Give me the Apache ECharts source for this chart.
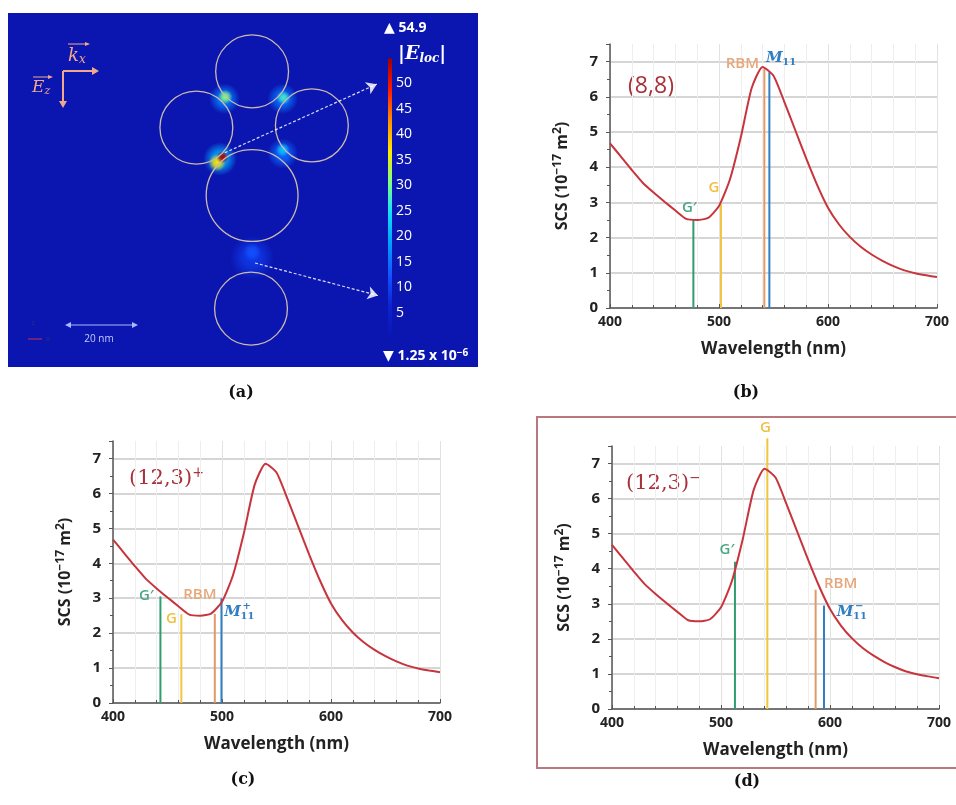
<!DOCTYPE html>
<html>
<head>
<meta charset="utf-8">
<script src="https://cdn.jsdelivr.net/npm/echarts@6/dist/echarts.min.js"></script>
<style>
  html, body { margin: 0; padding: 0; background: #fff; }
  #main { width: 956px; height: 805px; }
</style>
</head>
<body>
<div id="main"></div>
<script>
// ---- data ----
// scattering cross-section spectrum (same curve in b, c, d)
const wavelength = [400, 410, 420, 430, 440, 450, 460, 470, 480, 490, 500, 510, 520, 530, 540, 550,
  560, 570, 580, 590, 600, 610, 620, 630, 640, 650, 660, 670, 680, 690, 700]
const scs = [4.68, 4.3, 3.92, 3.56, 3.28, 3.02, 2.77, 2.53, 2.5, 2.56, 2.9, 3.65, 4.85, 6.25, 6.85, 6.6,
  5.85, 5.05, 4.25, 3.5, 2.85, 2.38, 2.02, 1.74, 1.52, 1.34, 1.19, 1.07, 0.99, 0.93, 0.88]

const xTicks = [400, 500, 600, 700]
const yTicks = [0, 1, 2, 3, 4, 5, 6, 7]

// Raman modes: [wavelength, height]
const modeNames = ['G′', 'G', 'RBM', 'M']
const modes88 = [[476.5, 2.5], [501.8, 2.95], [541.6, 6.8], [546.2, 6.7]]
const modes123p = [[443.5, 3.05], [462.7, 2.54], [493.4, 2.55], [499.5, 3.0]]
const modes123m = [[512.8, 4.2], [542.5, 7.72], [586.8, 3.4], [594.5, 2.95]]

// field map (nm, origin at centre of the big tube)
const tubes = [[0, 34, 20], [-15.3, 18.6, 20], [16.4, 19.2, 20], [0, 0, 25.2], [-0.3, -31, 20]]
// hot spots: [x, y, |E|, radius]
const hotSpots = [
  [-7.6, 26.5, 16, 4.2], [8.4, 26.5, 15, 4.2], [-8.8, 10, 20, 4.6], [8.4, 11.5, 14, 4.2], [0, -17, 9, 6],
  [-7.4, 27, 31, 2], [8.6, 26.8, 27, 1.9], [-9.6, 9, 37, 2.4], [-8.1, 10.5, 54, 1.7],
  [8.4, 12.5, 22, 1.9], [0, -15.5, 12, 2.5]
]
const fieldArrows = [[[-7.5, 11.7], [34.2, 30.5]], [[0.8, -18.5], [34.5, -27.4]]]
const colorbarRange = [0, 54.9]
const colorbarTicks = [5, 10, 15, 20, 25, 30, 35, 40, 45, 50]

// ---- styles ----
const jetColors = ['#0b16b0', '#0b22d2', '#1352ff', '#009cff', '#12dcff', '#7dff86', '#ffea00', '#ff9000', '#ff1a00', '#a00000']
const modeColors = ['#2f9e6e', '#f2c53d', '#e09a68', '#2f7fc2']
const labelColors = ['#4aa784', '#f0c040', '#e6a77a', '#2f7fc2']
const curveColor = '#c8343c'
const darkRed = '#a8323c'
const fontSans = '"Open Sans", "DejaVu Sans", sans-serif'
const fontSerif = '"DejaVu Serif", serif'

const labelOffsets = {
  b: [[-4, -12], [-7, -16], [-22, -5], [9, -14]],
  c: [[-14, -1], [-10, 4], [-15, -19], [15, 14]],
  d: [[-8, -12], [-2, -11], [25, -6], [25, 7]]
}

const chart = echarts.init(document.getElementById('main'))

function specX(g) {
  return {
    gridIndex: g, type: 'value', min: 400, max: 700, interval: 100,
    axisLine: { show: true, onZero: false, lineStyle: { color: '#555', width: 1.5 } },
    axisTick: { show: true, inside: true, length: 4, lineStyle: { color: '#555' } },
    minorTick: { show: true, splitNumber: 5, length: 3, lineStyle: { color: '#555' } },
    axisLabel: { color: '#222', fontWeight: 'bold', fontSize: 14, fontFamily: fontSans, margin: 7,
      formatter: v => xTicks.includes(v) ? v : '' },
    splitLine: { show: true, lineStyle: { color: '#e2e2e2' } },
    minorSplitLine: { show: true, lineStyle: { color: '#eeeeee' } },
    name: 'Wavelength (nm)', nameLocation: 'middle', nameGap: 33,
    nameTextStyle: { color: '#222', fontWeight: 'bold', fontSize: 17, fontFamily: fontSans }
  }
}

function specY(g) {
  return {
    gridIndex: g, type: 'value', min: 0, max: 7.5, interval: 1,
    axisLine: { show: true, lineStyle: { color: '#555', width: 1.5 } },
    axisTick: { show: true, length: 4, lineStyle: { color: '#555' } },
    minorTick: { show: true, splitNumber: 2, length: 3, lineStyle: { color: '#555' } },
    axisLabel: { color: '#222', fontWeight: 'bold', fontSize: 15, fontFamily: fontSans, margin: 12,
      formatter: v => yTicks.includes(v) ? v : '' },
    splitLine: { show: true, showMaxLine: false, lineStyle: { color: '#c8c8c8', width: 1.5 } },
    name: 'SCS (10{sup|−17} m{sup|2})', nameLocation: 'middle', nameGap: 37, nameRotate: 90,
    nameTextStyle: { color: '#222', fontWeight: 'bold', fontSize: 16, fontFamily: fontSans,
      rich: { sup: { fontSize: 12, fontWeight: 'bold', fontFamily: fontSans, color: '#222', verticalAlign: 'top', padding: [0, 0, 9, 0] } } }
  }
}

function curveSeries(g) {
  return {
    type: 'line', xAxisIndex: g, yAxisIndex: g, z: 4,
    data: wavelength.map((w, i) => [w, scs[i]]),
    showSymbol: false, symbol: 'none', smooth: 0.2,
    lineStyle: { color: curveColor, width: 2 }
  }
}

function modeSeries(g, data, offsets, sup) {
  return {
    type: 'custom', xAxisIndex: g, yAxisIndex: g, z: 3, clip: false,
    data: data,
    renderItem(params, api) {
      const i = params.dataIndex
      const x = api.value(0), top = api.value(1)
      const p0 = api.coord([x, 0]), p1 = api.coord([x, top])
      const cx = p1[0] + offsets[i][0], cy = p1[1] + offsets[i][1]
      const children = [{
        type: 'line', shape: { x1: p0[0], y1: p0[1], x2: p1[0], y2: p1[1] },
        style: { stroke: modeColors[i], lineWidth: 2 }
      }]
      if (i < 3) {
        children.push({ type: 'text', style: { text: modeNames[i], x: cx, y: cy, align: 'center', verticalAlign: 'middle',
          fill: labelColors[i], font: '600 15px ' + fontSans } })
      } else {
        children.push({ type: 'text', style: { text: 'M', x: cx - 4, y: cy, align: 'center', verticalAlign: 'middle',
          fill: labelColors[i], font: 'italic bold 15px ' + fontSerif } })
        children.push({ type: 'text', style: { text: '11', x: cx + 4, y: cy + 4, align: 'left', verticalAlign: 'middle',
          fill: labelColors[i], font: 'bold 10px ' + fontSerif } })
        if (sup) {
          children.push({ type: 'text', style: { text: sup, x: cx + 6, y: cy - 6, align: 'left', verticalAlign: 'middle',
            fill: labelColors[i], font: 'bold 10px ' + fontSerif } })
        }
      }
      return { type: 'group', children }
    }
  }
}

function arrowHead(x, y, dir, color) {
  const s = 4
  let pts
  if (dir === 'r') pts = [[x, y], [x - 7, y - s], [x - 7, y + s]]
  else pts = [[x, y], [x - s, y - 7], [x + s, y - 7]]
  return { type: 'polygon', shape: { points: pts }, style: { fill: color } }
}

const peach = '#f3a88b'
const graphics = [
  // field panel annotations
  { type: 'line', shape: { x1: 63, y1: 71, x2: 93, y2: 71 }, style: { stroke: peach, lineWidth: 2 }, z: 10 },
  arrowHead(99, 71, 'r', peach),
  { type: 'line', shape: { x1: 63, y1: 71, x2: 63, y2: 102 }, style: { stroke: peach, lineWidth: 2 }, z: 10 },
  arrowHead(63, 108, 'd', peach),
  { type: 'line', shape: { x1: 68, y1: 44, x2: 86, y2: 44 }, style: { stroke: peach, lineWidth: 1 } },
  { type: 'polygon', shape: { points: [[90, 44], [85, 42], [85, 46]] }, style: { fill: peach } },
  { type: 'text', left: 68, top: 47, style: { text: '{k|k}{s|x}', fill: peach,
    rich: { k: { font: 'italic 18px ' + fontSerif, fill: peach }, s: { font: 'italic 12px ' + fontSerif, fill: peach, padding: [8, 0, 0, 0] } } } },
  { type: 'line', shape: { x1: 33, y1: 77, x2: 49, y2: 77 }, style: { stroke: peach, lineWidth: 1 } },
  { type: 'polygon', shape: { points: [[53, 77], [48, 75], [48, 79]] }, style: { fill: peach } },
  { type: 'text', left: 32, top: 79, style: { text: '{k|E}{s|z}', fill: peach,
    rich: { k: { font: 'italic 17px ' + fontSerif, fill: peach }, s: { font: 'italic 11px ' + fontSerif, fill: peach, padding: [8, 0, 0, 0] } } } },
  // scale bar
  { type: 'line', shape: { x1: 69, y1: 325, x2: 134, y2: 325 }, style: { stroke: '#a9b8ff', lineWidth: 1.2 } },
  { type: 'polygon', shape: { points: [[65, 325], [71, 322], [71, 328]] }, style: { fill: '#a9b8ff' } },
  { type: 'polygon', shape: { points: [[138, 325], [132, 322], [132, 328]] }, style: { fill: '#a9b8ff' } },
  { type: 'text', x: 99, y: 339, style: { text: '20 nm', fill: '#c3ccff', font: '10px ' + fontSans, align: 'center', verticalAlign: 'middle' } },
  { type: 'text', x: 33, y: 323, style: { text: 'z', fill: '#2c2c80', font: '8px ' + fontSans, align: 'center', verticalAlign: 'middle' } },
  { type: 'line', shape: { x1: 28, y1: 339, x2: 42, y2: 339 }, style: { stroke: '#d0304a', lineWidth: 1 } },
  { type: 'text', x: 48, y: 339, style: { text: 'x', fill: '#2c2c80', font: '8px ' + fontSans, align: 'center', verticalAlign: 'middle' } },
  // colour bar captions
  { type: 'text', x: 384, y: 28, style: { text: '▲ 54.9', fill: '#fff', font: 'bold 14px ' + fontSans, align: 'left', verticalAlign: 'middle' } },
  { type: 'text', left: 398, top: 45, style: { text: '{b||E}{s|loc}{b||}', fill: '#fff',
    rich: { b: { font: 'italic bold 19px ' + fontSerif, fill: '#fff' }, s: { font: 'italic bold 12px ' + fontSerif, fill: '#fff', padding: [9, 0, 0, 0] } } } },
  { type: 'text', left: 383, top: 348, style: { text: '▼ 1.25 x 10{s|−6}', fill: '#fff', font: 'bold 14px ' + fontSans,
    rich: { s: { font: 'bold 10px ' + fontSans, fill: '#fff', padding: [0, 0, 7, 0] } } } },
  // spectrum labels
  { type: 'text', x: 651, y: 86, style: { text: '(8,8)', fill: darkRed, font: '23px ' + fontSans, align: 'center', verticalAlign: 'middle' } },
  { type: 'text', left: 129, top: 466, style: { text: '(12,3){s|+}', fill: darkRed, font: '21px ' + fontSerif,
    rich: { s: { font: '14px ' + fontSerif, fill: darkRed, padding: [0, 0, 12, 0] } } } },
  { type: 'text', left: 626, top: 471, style: { text: '(12,3){s|−}', fill: darkRed, font: '21px ' + fontSerif,
    rich: { s: { font: '14px ' + fontSerif, fill: darkRed, padding: [0, 0, 12, 0] } } } },
  // frame round (d)
  { type: 'rect', shape: { x: 537, y: 417, width: 440, height: 351 }, style: { fill: 'none', stroke: '#b9777e', lineWidth: 2 } },
  // panel captions
  { type: 'text', x: 241, y: 393, style: { text: '(a)', fill: '#111', font: 'bold 16px ' + fontSerif, align: 'center', verticalAlign: 'middle' } },
  { type: 'text', x: 746, y: 393, style: { text: '(b)', fill: '#111', font: 'bold 16px ' + fontSerif, align: 'center', verticalAlign: 'middle' } },
  { type: 'text', x: 243, y: 780, style: { text: '(c)', fill: '#111', font: 'bold 16px ' + fontSerif, align: 'center', verticalAlign: 'middle' } },
  { type: 'text', x: 747, y: 782, style: { text: '(d)', fill: '#111', font: 'bold 16px ' + fontSerif, align: 'center', verticalAlign: 'middle' } }
]

const hidden = { show: false }

const option = {
  animation: false,
  backgroundColor: '#fff',
  grid: [
    { left: 8, top: 13, width: 470, height: 354, show: true, backgroundColor: '#0b16b0', borderWidth: 0 },
    { left: 388, top: 58, width: 4, height: 280 },
    { left: 610, top: 44, width: 327, height: 264 },
    { left: 113, top: 441, width: 327, height: 262 },
    { left: 612, top: 446, width: 327, height: 263 }
  ],
  xAxis: [
    { gridIndex: 0, type: 'value', min: -67, max: 62, axisLine: hidden, axisTick: hidden, axisLabel: hidden, splitLine: hidden },
    { gridIndex: 1, type: 'value', min: 0, max: 1, axisLine: hidden, axisTick: hidden, axisLabel: hidden, splitLine: hidden },
    specX(2), specX(3), specX(4)
  ],
  yAxis: [
    { gridIndex: 0, type: 'value', min: -47, max: 50, axisLine: hidden, axisTick: hidden, axisLabel: hidden, splitLine: hidden },
    { gridIndex: 1, type: 'value', min: 0, max: 55, interval: 5, position: 'right',
      axisLine: hidden, axisTick: hidden, splitLine: hidden,
      axisLabel: { color: '#fff', fontSize: 14, fontFamily: fontSans, margin: 4,
        formatter: v => colorbarTicks.includes(v) ? v : '' } },
    specY(2), specY(3), specY(4)
  ],
  visualMap: {
    show: false, type: 'continuous', min: colorbarRange[0], max: colorbarRange[1],
    dimension: 2, seriesIndex: 0, inRange: { color: jetColors }
  },
  graphic: graphics,
  series: [
    {
      type: 'custom', xAxisIndex: 0, yAxisIndex: 0, data: hotSpots, z: 2,
      renderItem(params, api) {
        const c = api.coord([api.value(0), api.value(1)])
        const r = api.size([api.value(3), 0])[0]
        const col = api.visual('color')
        return {
          type: 'circle', shape: { cx: c[0], cy: c[1], r: r },
          style: { fill: new echarts.graphic.RadialGradient(0.5, 0.5, 0.5, [
            { offset: 0, color: col },
            { offset: 0.45, color: echarts.color.modifyAlpha(col, 0.75) },
            { offset: 1, color: echarts.color.modifyAlpha(col, 0) }
          ]) }
        }
      }
    },
    {
      type: 'custom', xAxisIndex: 0, yAxisIndex: 0, data: tubes, z: 3,
      renderItem(params, api) {
        const c = api.coord([api.value(0), api.value(1)])
        const d = api.size([api.value(2), 0])[0]
        return { type: 'circle', shape: { cx: c[0], cy: c[1], r: d / 2 },
          style: { fill: 'none', stroke: '#cbbcad', lineWidth: 1.3 } }
      }
    },
    {
      type: 'lines', coordinateSystem: 'cartesian2d', xAxisIndex: 0, yAxisIndex: 0, z: 4,
      data: fieldArrows.map(c => ({ coords: c })),
      symbol: ['none', 'arrow'], symbolSize: 10,
      lineStyle: { color: '#ffffff', width: 1.2, type: [3, 2], opacity: 0.85, curveness: 0 }
    },
    {
      type: 'custom', xAxisIndex: 1, yAxisIndex: 1, data: [[0, colorbarRange[0], colorbarRange[1]]],
      renderItem(params, api) {
        const a = api.coord([0, api.value(2)])
        const b = api.coord([1, api.value(1)])
        return { type: 'rect', shape: { x: a[0], y: a[1], width: b[0] - a[0], height: b[1] - a[1] },
          style: { fill: new echarts.graphic.LinearGradient(0, 1, 0, 0,
            jetColors.map((c, i) => ({ offset: i / (jetColors.length - 1), color: c }))) } }
      }
    },
    curveSeries(2), modeSeries(2, modes88, labelOffsets.b, ''),
    curveSeries(3), modeSeries(3, modes123p, labelOffsets.c, '+'),
    curveSeries(4), modeSeries(4, modes123m, labelOffsets.d, '−')
  ]
}

chart.setOption(option)
</script>
</body>
</html>
